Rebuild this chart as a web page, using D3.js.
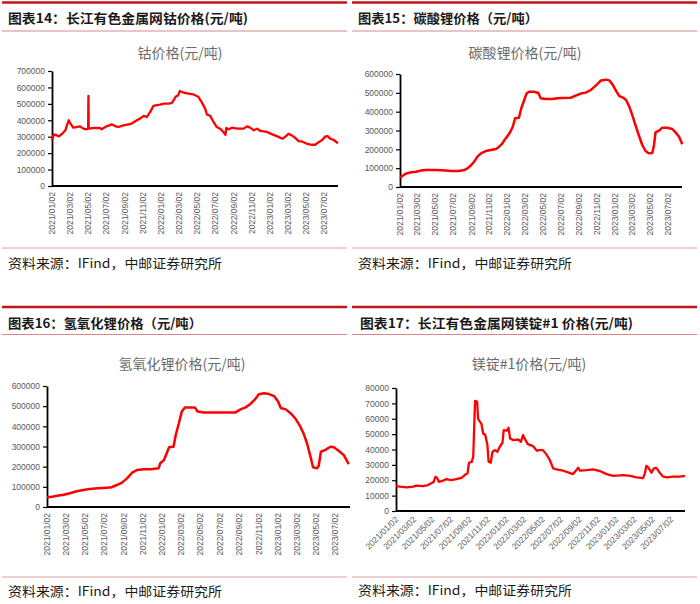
<!DOCTYPE html>
<html>
<head>
<meta charset="utf-8">
<script src="https://cdn.jsdelivr.net/npm/d3@7"></script>
<style>
  body { margin: 0; background: #fff; }
  svg { display: block; }
</style>
</head>
<body>
<div id="chart"></div>
<script>
// x tick labels shared by all four charts
var xTickLabels = ["2021/01/02","2021/03/02","2021/05/02","2021/07/02","2021/09/02","2021/11/02",
  "2022/01/02","2022/03/02","2022/05/02","2022/07/02","2022/09/02","2022/11/02",
  "2023/01/02","2023/03/02","2023/05/02","2023/07/02"];
var xStart = "2021/01/02", xEnd = "2023/08/18";

// cobalt (元/吨)
var cobaltDates = ["2021/01/02","2021/01/08","2021/01/19","2021/01/25","2021/02/05","2021/02/16","2021/02/21","2021/02/27",
  "2021/03/03","2021/03/09","2021/03/14","2021/03/25","2021/04/06","2021/04/17","2021/04/28","2021/05/03","2021/05/04",
  "2021/05/05","2021/05/20","2021/06/12","2021/06/17","2021/07/04","2021/07/21","2021/08/01","2021/08/12","2021/08/29",
  "2021/09/15","2021/09/26","2021/10/13","2021/10/24","2021/11/05","2021/11/16","2021/11/27","2021/12/08","2021/12/19",
  "2021/12/30","2022/01/12","2022/01/29","2022/02/09","2022/02/20","2022/03/01","2022/03/06","2022/03/18","2022/04/04",
  "2022/04/21","2022/05/07","2022/05/18","2022/05/30","2022/06/05","2022/06/16","2022/06/27","2022/07/08","2022/07/19",
  "2022/07/30","2022/08/06","2022/08/09","2022/08/17","2022/08/28","2022/09/14","2022/10/06","2022/10/17","2022/10/28",
  "2022/11/09","2022/11/20","2022/12/01","2022/12/23","2023/01/10","2023/01/27","2023/02/13","2023/02/24","2023/03/05",
  "2023/03/16","2023/03/27","2023/04/08","2023/04/19","2023/05/06","2023/05/23","2023/06/03","2023/06/14","2023/06/25",
  "2023/07/07","2023/07/14","2023/07/23","2023/08/04","2023/08/18"];
var cobaltValues = [278000,314000,308000,302000,318000,339000,369000,400000,386000,369000,355000,359000,363000,349000,345000,
  349000,549000,349000,353000,353000,345000,363000,375000,365000,359000,369000,375000,380000,400000,410000,427000,420000,
  451000,488000,492000,496000,502000,502000,508000,543000,553000,578000,569000,563000,557000,543000,512000,471000,435000,
  427000,390000,359000,349000,329000,312000,353000,345000,355000,349000,349000,363000,355000,339000,349000,335000,329000,
  314000,302000,288000,302000,318000,308000,294000,273000,271000,257000,251000,251000,267000,278000,302000,304000,288000,
  280000,259000];

// lithium carbonate (元/吨)
var carbonateDates = ["2021/01/02","2021/01/11","2021/01/22","2021/02/09","2021/02/26","2021/03/13","2021/03/30","2021/05/03",
  "2021/06/06","2021/06/23","2021/07/21","2021/08/08","2021/08/19","2021/08/30","2021/09/11","2021/09/22","2021/10/04",
  "2021/10/20","2021/11/07","2021/11/24","2021/12/05","2021/12/16","2021/12/27","2022/01/09","2022/01/20","2022/01/28",
  "2022/02/10","2022/02/18","2022/02/28","2022/03/08","2022/03/16","2022/04/02","2022/04/17","2022/04/25","2022/05/11",
  "2022/06/04","2022/06/20","2022/07/07","2022/08/05","2022/08/22","2022/09/08","2022/09/25","2022/10/12","2022/10/29",
  "2022/11/16","2022/12/03","2022/12/14","2022/12/25","2023/01/06","2023/01/17","2023/01/28","2023/02/09","2023/02/20",
  "2023/03/02","2023/03/13","2023/03/24","2023/04/05","2023/04/16","2023/04/27","2023/05/09","2023/05/15","2023/05/20",
  "2023/06/01","2023/06/12","2023/06/29","2023/07/16","2023/07/27","2023/08/08","2023/08/19"];
var carbonateValues = [50000,60000,71000,78000,81000,87000,90000,90000,88000,85000,85000,90000,99000,113000,135000,161000,
  179000,191000,196000,202000,214000,232000,258000,285000,320000,365000,368000,418000,462000,497000,506000,506000,499000,
  471000,467000,467000,471000,473000,474000,485000,496000,501000,515000,538000,566000,570000,566000,545000,510000,483000,
  476000,462000,427000,382000,329000,276000,223000,191000,179000,181000,223000,290000,299000,315000,315000,308000,290000,
  267000,227000];

// lithium hydroxide (元/吨)
var hydroxideDates = ["2021/01/02","2021/01/18","2021/02/03","2021/02/24","2021/03/15","2021/04/06","2021/04/27","2021/05/17",
  "2021/06/13","2021/07/10","2021/07/25","2021/08/11","2021/08/27","2021/09/12","2021/09/28","2021/10/13","2021/11/04",
  "2021/11/25","2021/12/21","2021/12/26","2022/01/07","2022/01/23","2022/02/06","2022/02/13","2022/02/23","2022/03/04",
  "2022/03/14","2022/04/15","2022/04/23","2022/05/12","2022/06/13","2022/07/14","2022/08/21","2022/09/06","2022/09/22",
  "2022/10/07","2022/10/20","2022/11/03","2022/11/19","2022/12/05","2022/12/21","2023/01/03","2023/01/11","2023/01/27",
  "2023/02/12","2023/02/28","2023/03/14","2023/03/24","2023/04/04","2023/04/15","2023/04/23","2023/05/06","2023/05/11",
  "2023/05/18","2023/06/01","2023/06/17","2023/06/28","2023/07/13","2023/07/29","2023/08/14"];
var hydroxideValues = [48000,51000,56000,61000,68000,78000,84000,89000,93000,96000,98000,109000,121000,142000,170000,183000,
  187000,187000,192000,217000,233000,296000,299000,357000,415000,473000,493000,493000,473000,469000,469000,469000,469000,
  484000,494000,511000,531000,559000,564000,560000,550000,522000,491000,484000,464000,435000,398000,365000,316000,250000,
  197000,192000,203000,274000,283000,299000,296000,279000,258000,213000];

// magnesium ingot #1 (元/吨)
var magnesiumDates = ["2021/01/02","2021/01/15","2021/02/07","2021/02/28","2021/03/10","2021/04/01","2021/04/18","2021/04/29",
  "2021/05/07","2021/05/13","2021/05/19","2021/05/24","2021/06/07","2021/06/18","2021/07/04","2021/07/21","2021/08/07",
  "2021/08/18","2021/08/27","2021/09/01","2021/09/10","2021/09/15","2021/09/21","2021/09/28","2021/10/01","2021/10/07",
  "2021/10/12","2021/10/18","2021/10/25","2021/11/01","2021/11/05","2021/11/12","2021/11/18","2021/11/26","2021/12/04",
  "2021/12/12","2021/12/21","2021/12/25","2022/01/04","2022/01/10","2022/01/15","2022/01/26","2022/02/12","2022/02/20",
  "2022/02/27","2022/03/04","2022/03/15","2022/04/01","2022/04/14","2022/04/23","2022/05/04","2022/05/15","2022/05/26",
  "2022/06/07","2022/06/18","2022/07/10","2022/07/26","2022/08/12","2022/08/23","2022/08/29","2022/09/04","2022/09/26",
  "2022/10/18","2022/11/09","2022/12/01","2022/12/23","2023/01/26","2023/02/18","2023/03/10","2023/04/01","2023/04/07",
  "2023/04/12","2023/04/18","2023/04/29","2023/05/07","2023/05/15","2023/05/26","2023/06/07","2023/06/18","2023/07/10",
  "2023/08/01","2023/08/18"];
var magnesiumValues = [16200,15800,15400,15800,16500,16200,16900,18000,19000,22300,21200,19000,19700,20800,20100,20800,
  21600,23400,24500,31400,32000,35300,71600,71000,60200,58000,56900,50400,49400,42900,32000,31400,38500,39600,38500,
  41800,44400,52600,52200,54100,47200,46100,46500,45000,49400,47200,43500,42200,39200,39600,39600,37000,33500,27700,
  27100,26200,25100,24000,26600,28100,26200,26600,27100,26000,24000,22900,23400,22900,21900,21400,24500,29400,28400,
  24900,27700,28100,24900,22300,21900,22300,22300,22900];

var sourceText = "资料来源：IFind，中邮证券研究所";

var parseDate = d3.timeParse("%Y/%m/%d");
var cjk = "'Noto Sans CJK SC', sans-serif";
var latin = "'Liberation Sans', Arial, sans-serif";

var svg = d3.select("#chart")
    .append("svg")
    .attr("width", 700)
    .attr("height", 604);

var panels = [
  { header: "图表14：长江有色金属网钴价格(元/吨)", headerX: 8, headerW: 240, title: "钴价格(元/吨)", titleX: 180,
    dates: cobaltDates, values: cobaltValues, max: 700000, step: 100000,
    x0: 52, x1: 338, yTop: 71, yBot: 186, rotate: -90, lineW: 2.3,
    ruleX0: 2, ruleX1: 347, topY: 2.5, headerY: 23, thinY: 31, titleY: 58, srcLineY: 248, srcY: 268, srcX: 8 },
  { header: "图表15：碳酸锂价格（元/吨）", headerX: 358, headerW: 180, title: "碳酸锂价格(元/吨)", titleX: 525,
    dates: carbonateDates, values: carbonateValues, max: 600000, step: 100000,
    x0: 400, x1: 682, yTop: 74, yBot: 187, rotate: -90, lineW: 2.5,
    ruleX0: 352, ruleX1: 697, topY: 2.5, headerY: 23, thinY: 31, titleY: 58, srcLineY: 248, srcY: 268, srcX: 358 },
  { header: "图表16：氢氧化锂价格（元/吨）", headerX: 8, headerW: 194, title: "氢氧化锂价格(元/吨)", titleX: 182,
    dates: hydroxideDates, values: hydroxideValues, max: 600000, step: 100000,
    x0: 47, x1: 350, yTop: 386, yBot: 507, rotate: -90, lineW: 2.5,
    ruleX0: 2, ruleX1: 347, topY: 307, headerY: 328, thinY: 334.5, titleY: 369, srcLineY: 577, srcY: 596, srcX: 8 },
  { header: "图表17：长江有色金属网镁锭#1 价格(元/吨)", headerX: 360, headerW: 273, title: "镁锭#1价格(元/吨)", titleX: 529,
    dates: magnesiumDates, values: magnesiumValues, max: 80000, step: 10000,
    x0: 396, x1: 685, yTop: 388, yBot: 511, rotate: -45, lineW: 2.3,
    ruleX0: 352, ruleX1: 697, topY: 307, headerY: 328, thinY: 334.5, titleY: 369, srcLineY: 577, srcY: 595, srcX: 358 }
];

panels.forEach(function(p) {
  var g = svg.append("g");

  // header rules and caption
  g.append("line").attr("x1", p.ruleX0).attr("x2", p.ruleX1).attr("y1", p.topY).attr("y2", p.topY)
    .attr("stroke", "#c0161e").attr("stroke-width", 2.5);
  g.append("text").attr("x", p.headerX).attr("y", p.headerY)
    .attr("textLength", p.headerW).attr("lengthAdjust", "spacingAndGlyphs")
    .style("font-family", cjk).style("font-weight", 700).style("font-size", "13px").attr("fill", "#1a1a1a")
    .text(p.header);
  g.append("line").attr("x1", p.ruleX0).attr("x2", p.ruleX1).attr("y1", p.thinY).attr("y2", p.thinY)
    .attr("stroke", "#d9888a").attr("stroke-width", 1);

  // chart title
  g.append("text").attr("x", p.titleX).attr("y", p.titleY).attr("text-anchor", "middle")
    .style("font-family", cjk).style("font-size", "14px").attr("fill", "#6b6b6b")
    .text(p.title);

  var x = d3.scaleTime()
      .domain([parseDate(xStart), parseDate(xEnd)])
      .range([p.x0, p.x1]);
  var y = d3.scaleLinear()
      .domain([0, p.max])
      .range([p.yBot, p.yTop]);

  // y axis
  var yAxis = g.append("g")
      .attr("transform", "translate(" + p.x0 + ",0)")
      .call(d3.axisLeft(y).tickValues(d3.range(0, p.max + 1, p.step)).tickSize(4).tickSizeOuter(0).tickPadding(3)
        .tickFormat(d3.format("d")));
  yAxis.select(".domain").attr("stroke", "#000").attr("stroke-width", 1.8);
  yAxis.selectAll(".tick line").attr("stroke", "#000").attr("stroke-width", 1.2);
  yAxis.selectAll(".tick text").attr("fill", "#595959").style("font-family", latin).style("font-size", "8.5px");

  // x axis line
  g.append("line").attr("x1", p.x0).attr("x2", p.x1).attr("y1", p.yBot).attr("y2", p.yBot)
    .attr("stroke", "#000").attr("stroke-width", 1.8);

  // x tick labels
  g.selectAll(".xlab")
    .data(xTickLabels)
    .enter()
    .append("text")
    .attr("class", "xlab")
    .attr("text-anchor", "end")
    .attr("fill", "#595959")
    .style("font-family", latin)
    .style("font-size", "8.5px")
    .attr("transform", function(d) {
      var px = x(parseDate(d));
      if (p.rotate === -90) {
        return "translate(" + (px + 3) + "," + (p.yBot + 6) + ") rotate(-90)";
      }
      return "translate(" + (px + 3) + "," + (p.yBot + 9) + ") rotate(-45)";
    })
    .text(function(d) { return d; });

  // price line
  var pts = p.dates.map(function(d, i) {
    return { date: parseDate(d), value: p.values[i] };
  });
  var line = d3.line()
      .x(function(d) { return x(d.date); })
      .y(function(d) { return y(d.value); });
  g.append("path")
    .datum(pts)
    .attr("d", line)
    .attr("fill", "none")
    .attr("stroke", "#ff0000")
    .attr("stroke-width", p.lineW)
    .attr("stroke-linejoin", "round");

  // source
  g.append("line").attr("x1", p.ruleX0).attr("x2", p.ruleX1).attr("y1", p.srcLineY).attr("y2", p.srcLineY)
    .attr("stroke", "#e0a0a0").attr("stroke-width", 1);
  g.append("text").attr("x", p.srcX).attr("y", p.srcY)
    .attr("textLength", 214).attr("lengthAdjust", "spacingAndGlyphs")
    .style("font-family", cjk).style("font-size", "13px").attr("fill", "#1a1a1a")
    .text(sourceText);
});
</script>
</body>
</html>
